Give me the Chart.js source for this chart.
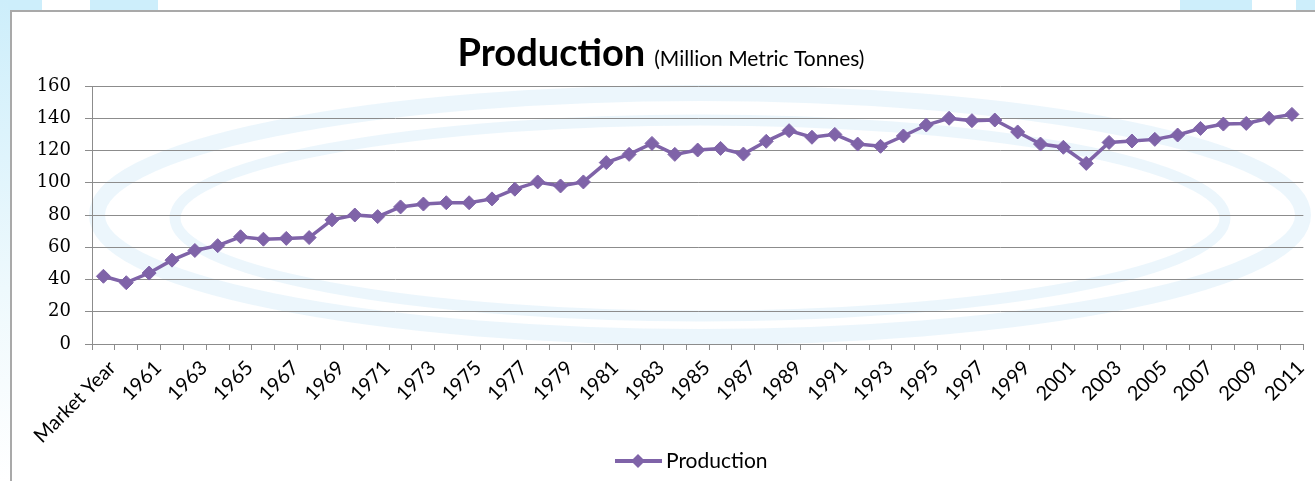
<!DOCTYPE html>
<html>
<head>
<meta charset="utf-8">
<script src="https://cdn.jsdelivr.net/npm/chart.js@4"></script>
<style>
body{margin:0;background:#fff;}
#wrap{position:relative;width:1315px;height:481px;overflow:hidden;}
#frame{position:absolute;left:10px;top:10px;width:1320px;height:480px;border-left:2px solid #a9a9a9;border-top:2px solid #a9a9a9;}
.blob{position:absolute;top:0;height:10px;background:#cdeefb;}
#strip{position:absolute;left:0;top:0;width:10px;height:481px;background:linear-gradient(#cdeefb,#eef9fd 60%,#fff);}
canvas{position:absolute;left:0;top:0;}
</style>
</head>
<body>
<div id="wrap">
  <div id="strip"></div>
  <div class="blob" style="left:8px;width:34px"></div>
  <div class="blob" style="left:90px;width:68px"></div>
  <div class="blob" style="left:1180px;width:72px"></div>
  <div class="blob" style="left:1296px;width:19px"></div>
  <div id="frame"></div>
  <canvas id="myChart" width="1315" height="481"></canvas>
</div>
<script>
const years = [
  'Market Year', '1960', '1961', '1962', '1963', '1964', '1965', '1966', '1967', '1968',
  '1969', '1970', '1971', '1972', '1973', '1974', '1975', '1976', '1977', '1978',
  '1979', '1980', '1981', '1982', '1983', '1984', '1985', '1986', '1987', '1988',
  '1989', '1990', '1991', '1992', '1993', '1994', '1995', '1996', '1997', '1998',
  '1999', '2000', '2001', '2002', '2003', '2004', '2005', '2006', '2007', '2008',
  '2009', '2010', '2011'
]

const production = [
  42, 38, 44, 52, 58, 61, 66.5, 65, 65.5, 66,
  77, 80, 79, 85, 86.8, 87.6, 87.6, 90, 96, 100.5,
  98, 100.5, 112.5, 117.6, 124.4, 117.6, 120.3, 121.3, 117.8, 125.7,
  132.3, 128.2, 130, 124, 122.6, 129, 135.8, 140, 138.5, 138.9,
  131.5, 124, 122, 112, 125, 125.9, 126.9, 129.6, 133.7, 136.4,
  136.8, 140, 142.4
]

const yTicks = [0, 20, 40, 60, 80, 100, 120, 140, 160]

const purple = '#7f63a8'

const backdrop = {
  id: 'backdrop',
  beforeDraw(chart) {
    const ctx = chart.ctx
    ctx.save()
    ctx.strokeStyle = 'rgba(200,230,247,0.35)'
    ctx.lineWidth = 16
    ctx.beginPath()
    ctx.ellipse(700, 215, 603, 122, 0, 0, Math.PI * 2)
    ctx.stroke()
    ctx.lineWidth = 11
    ctx.beginPath()
    ctx.ellipse(700, 218, 525, 98, 0, 0, Math.PI * 2)
    ctx.stroke()
    ctx.restore()
  }
}

// title in two sizes, and the legend (line + diamond, then the name)
const texts = {
  id: 'texts',
  afterDraw(chart) {
    const ctx = chart.ctx
    ctx.save()
    ctx.fillStyle = '#000'
    ctx.textBaseline = 'alphabetic'
    ctx.font = 'bold 38px Lato'
    const w1 = ctx.measureText('Production').width
    ctx.font = '21px Lato'
    const w2 = ctx.measureText('(Million Metric Tonnes)').width
    const gap = 9
    const x0 = 661 - (w1 + gap + w2) / 2
    ctx.font = 'bold 38px Lato'
    ctx.fillText('Production', x0, 66)
    ctx.font = '21px Lato'
    ctx.fillText('(Million Metric Tonnes)', x0 + w1 + gap, 66)

    const ly = 461
    ctx.strokeStyle = purple
    ctx.lineWidth = 4
    ctx.beginPath()
    ctx.moveTo(615, ly)
    ctx.lineTo(662, ly)
    ctx.stroke()
    ctx.fillStyle = purple
    ctx.beginPath()
    ctx.moveTo(638, ly - 7)
    ctx.lineTo(645, ly)
    ctx.lineTo(638, ly + 7)
    ctx.lineTo(631, ly)
    ctx.closePath()
    ctx.fill()
    ctx.fillStyle = '#000'
    ctx.font = '21px Lato'
    ctx.textBaseline = 'middle'
    ctx.fillText(data1.datasets[0].label, 666, ly)
    ctx.restore()
  }
}

const data1 = {
  labels: years,
  datasets: [{
    label: 'Production',
    data: production,
    borderColor: purple,
    backgroundColor: purple,
    borderWidth: 3.5,
    pointStyle: 'rectRot',
    pointRadius: 7,
    pointBorderWidth: 1,
    tension: 0,
  }]
}

const config1 = {
  type: 'line',
  data: data1,
  plugins: [backdrop, texts],
  options: {
    responsive: false,
    animation: false,
    devicePixelRatio: 1,
    layout: { padding: { top: 86, right: 10, bottom: 38, left: 0 } },
    plugins: {
      tooltip: { enabled: false },
      title: { display: false },
      legend: { display: false }
    },
    scales: {
      x: {
        offset: true,
        afterFit(scale) { scale.height = 99 },
        grid: { offset: true, drawOnChartArea: false, drawTicks: true, tickLength: 6, color: '#8c8c8c' },
        border: { color: '#8c8c8c', width: 1 },
        ticks: {
          autoSkip: false,
          minRotation: 45,
          maxRotation: 45,
          padding: 6,
          labelOffset: 9,
          color: '#000',
          font: { family: 'Lato', size: 20 },
          callback: (v, i) => i % 2 === 0 ? years[i] : ''
        }
      },
      y: {
        min: yTicks[0],
        max: yTicks[yTicks.length - 1],
        afterFit(scale) { scale.width = 92 },
        afterBuildTicks(scale) { scale.ticks = yTicks.map(v => ({ value: v })) },
        grid: { color: '#8c8c8c', tickLength: 7 },
        border: { color: '#8c8c8c', width: 1 },
        ticks: {
          padding: 14,
          color: '#000',
          font: { family: 'DejaVu Serif', size: 18 }
        }
      }
    }
  }
}

const myChart1 = new Chart(
  document.getElementById('myChart'),
  config1
)
</script>
</body>
</html>
